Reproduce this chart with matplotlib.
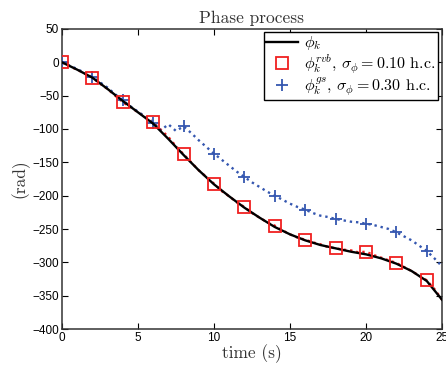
import numpy as np
import matplotlib
matplotlib.use("Agg")
import matplotlib.pyplot as plt
from matplotlib.lines import Line2D

plt.rcParams['mathtext.fontset'] = 'cm'
plt.rcParams['font.family'] = ['Liberation Sans', 'DejaVu Sans']

# true phase, 1 s grid
t_true = np.arange(0, 26, 1.0)
phi_true = [0, -11, -23, -40, -58, -75, -92, -115, -139, -162, -183, -201, -218,
            -233, -247, -258, -267, -274, -279, -284, -288, -294, -302, -313, -328, -356]

# estimates, 0.5 s grid
t_est = np.arange(0, 25.5, 0.5)
phi_rvb = [0, -6, -11, -17, -23, -32, -40, -50, -60, -67, -75, -82, -90, -101, -112, -126,
           -138, -150, -162, -172, -182, -193, -201, -210, -217, -226, -233, -240, -245, -252,
           -258, -263, -266, -270, -273, -277, -279, -281, -282, -285, -284, -289, -293, -297,
           -301, -307, -313, -320, -327, -340, -356]
phi_gs = [0, -5, -10, -16, -22, -30, -38, -48, -57, -66, -74, -82, -91, -102, -93, -103,
          -96, -106, -117, -127, -137, -146, -155, -164, -172, -180, -187, -194, -200, -206,
          -212, -217, -221, -226, -230, -232, -235, -237, -239, -240, -242, -244, -247, -250,
          -255, -261, -267, -275, -283, -294, -306]

title = 'Phase process'
xlabel = 'time (s)'
ylabel = '(rad)'
labels = [r'$\phi_k$',
          r'$\phi_k^{rvb}$, $\sigma_\phi = 0.10$ h.c.',
          r'$\phi_k^{gs}$, $\sigma_\phi = 0.30$ h.c.']

RED = '#f02020'
BLUE = '#3557b0'
SERIF = 'cmr10'

fig = plt.figure(figsize=(4.46, 3.65), dpi=100)
ax = fig.add_axes([0.139, 0.0986, 0.852, 0.822])

ax.plot(t_est, phi_gs, ':', color=BLUE, lw=1.7, marker='+', markevery=4,
        markersize=9, markeredgewidth=1.3, zorder=3)
ax.plot(t_est, phi_rvb, ':', color=RED, lw=1.7, zorder=2)
ax.plot(t_true, phi_true, '-', color='black', lw=1.7, zorder=4)
ax.plot(t_est, phi_rvb, linestyle='none', marker='s', markevery=4, markersize=9,
        markerfacecolor='none', markeredgecolor=RED, markeredgewidth=1.3, zorder=5)

ax.set_xlim(0, 25)
ax.set_ylim(-400, 50)
ax.set_xticks([0, 5, 10, 15, 20, 25])
ax.set_yticks(np.arange(-400, 51, 50))
ax.tick_params(direction='in', length=4, labelsize=8.5, top=True, right=True, pad=2)
for s in ax.spines.values():
    s.set_linewidth(1.1)
    s.set_color('#333333')

ax.set_title(title, fontsize=12.5, pad=4, family=SERIF, color='#333333')
ax.set_xlabel(xlabel, fontsize=12.5, labelpad=0, family=SERIF, color='#333333')
ax.set_ylabel(ylabel, fontsize=12.5, labelpad=2, family=SERIF, color='#333333')

handles = [Line2D([], [], color='black', lw=1.7),
           Line2D([], [], linestyle='none', marker='s', markersize=9,
                  markerfacecolor='none', markeredgecolor=RED, markeredgewidth=1.3),
           Line2D([], [], linestyle='none', marker='+', markersize=9,
                  color=BLUE, markeredgewidth=1.3)]
leg = ax.legend(handles, labels, loc='upper right', bbox_to_anchor=(0.99, 0.99),
                prop={'family': SERIF, 'size': 11.5}, fancybox=False, framealpha=1,
                edgecolor='black', borderpad=0.15, labelspacing=0.0, handlelength=2.0,
                handletextpad=0.4, borderaxespad=0)
leg.get_frame().set_linewidth(1.0)

fig.savefig('out.png', dpi=100)
